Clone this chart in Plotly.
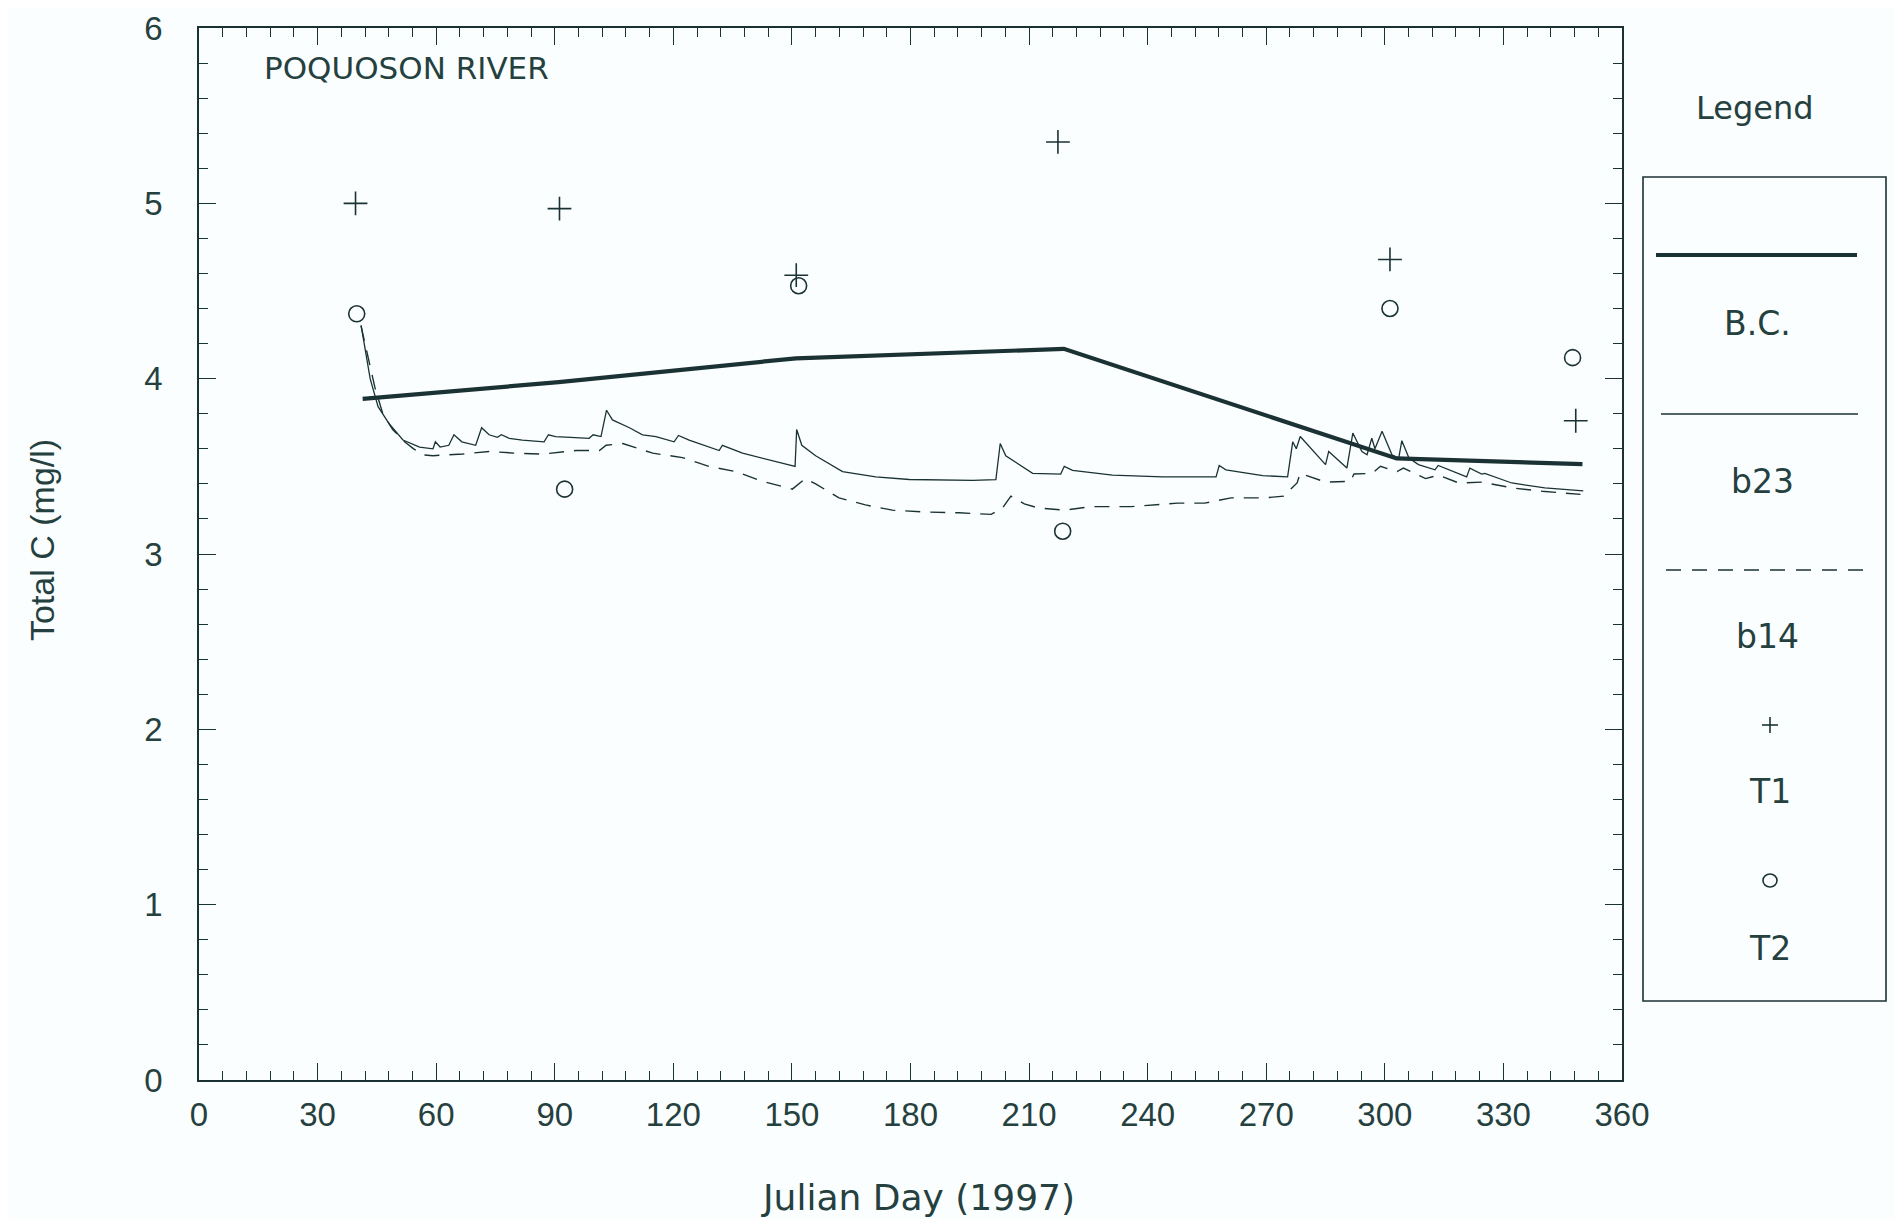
import plotly.graph_objects as go

# ---------------- data ----------------
bc_day = [41.4, 91, 151, 218.8, 303, 350]
bc_val = [3.885, 3.98, 4.116, 4.17, 3.545, 3.513]

b23_day = [41.0, 43.3, 45.3, 48.2, 51.6, 55.8, 59.2, 59.8, 61.0, 63.2, 64.5, 66.5, 70.0, 71.5,
           73.4, 75.5, 76.5, 78.5, 81.8, 87.3, 88.4, 90.2, 94.0, 98.7, 99.7, 101.7, 103.1, 104.6,
           108.9, 112.2, 115.6, 120.2, 121.3, 124.0, 131.6, 132.4, 137.5, 145.9, 150.8, 151.2,
           152.5, 156.0, 162.8, 171.2, 179.7, 195.7, 201.6, 202.7, 204.1, 210.9, 218.0, 218.9,
           221.0, 231.1, 243.8, 257.3, 258.1, 259.8, 269.1, 275.4, 276.7, 277.6, 278.6, 285.0,
           285.8, 290.4, 291.9, 294.2, 295.5, 296.7, 297.5, 299.3, 301.8, 303.5, 304.3, 306.1,
           308.5, 312.7, 313.5, 320.7, 321.5, 324.5, 325.3, 332.1, 340.5, 350.2]
b23_val = [4.305, 4.00, 3.84, 3.74, 3.65, 3.61, 3.60, 3.64, 3.61, 3.62, 3.68, 3.64, 3.62, 3.72,
           3.68, 3.665, 3.68, 3.66, 3.65, 3.64, 3.68, 3.67, 3.665, 3.66, 3.68, 3.67, 3.82, 3.765,
           3.72, 3.68, 3.67, 3.64, 3.676, 3.65, 3.59, 3.62, 3.575, 3.53, 3.50, 3.71,
           3.62, 3.56, 3.47, 3.44, 3.425, 3.42, 3.424, 3.63, 3.56, 3.46, 3.456, 3.50,
           3.477, 3.45, 3.44, 3.44, 3.505, 3.48, 3.447, 3.44, 3.64, 3.60, 3.67, 3.51,
           3.585, 3.49, 3.69, 3.585, 3.566, 3.66, 3.60, 3.70, 3.566, 3.545, 3.646, 3.547,
           3.51, 3.48, 3.505, 3.44, 3.49, 3.456, 3.46, 3.405, 3.377, 3.36]

b14_day = [41.0, 42.5, 44.5, 46.5, 49.0, 52.0, 54.3, 57.0, 59.2, 62.0, 66.8, 73.4, 80.1, 86.9,
           95.4, 101.3, 103.0, 107.2, 114.8, 122.3, 129.0, 135.8, 142.5, 150.1, 153.4, 156.0,
           161.9, 168.6, 175.4, 183.0, 192.3, 200.4, 203.3, 205.4, 208.8, 212.2, 219.0, 225.7,
           235.8, 247.6, 254.4, 261.1, 269.6, 274.4, 277.8, 278.6, 285.0, 291.3, 292.2, 296.8,
           298.9, 303.1, 304.7, 310.3, 313.6, 318.7, 324.6, 332.2, 339.8, 349.5]
b14_val = [4.30, 4.15, 3.95, 3.80, 3.71, 3.64, 3.60, 3.565, 3.56, 3.565, 3.57, 3.585, 3.575, 3.57,
           3.59, 3.59, 3.62, 3.63, 3.575, 3.55, 3.50, 3.47, 3.415, 3.37, 3.43, 3.40,
           3.32, 3.28, 3.25, 3.24, 3.235, 3.226, 3.263, 3.33, 3.286, 3.263, 3.25, 3.27,
           3.27, 3.29, 3.29, 3.32, 3.32, 3.33, 3.405, 3.46, 3.41, 3.415, 3.456, 3.46,
           3.50, 3.47, 3.49, 3.43, 3.45, 3.405, 3.41, 3.377, 3.358, 3.34]

t1_day = [39.6, 91.2, 151.1, 217.3, 301.3, 348.3]
t1_val = [5.00, 4.97, 4.59, 5.35, 4.68, 3.76]
t2_day = [39.9, 92.5, 151.7, 218.5, 301.3, 347.5]
t2_val = [4.37, 3.37, 4.53, 3.13, 4.40, 4.12]

x_ticks = list(range(0, 361, 30))
y_ticks = [0, 1, 2, 3, 4, 5, 6]

# ---------------- styling ----------------
INK = "#1b3234"
TXT = "#25413f"
BG = "#fbfefe"
FONT = "Liberation Sans, Arial, sans-serif"
WFONT = "DejaVu Sans, Verdana, sans-serif"

fig = go.Figure()
fig.add_trace(go.Scatter(x=bc_day, y=bc_val, mode="lines", name="B.C.",
                         line=dict(color=INK, width=4.2)))
fig.add_trace(go.Scatter(x=b23_day, y=b23_val, mode="lines", name="b23",
                         line=dict(color=INK, width=1.3)))
fig.add_trace(go.Scatter(x=b14_day, y=b14_val, mode="lines", name="b14",
                         line=dict(color=INK, width=1.4, dash="15px,10px")))
fig.add_trace(go.Scatter(x=t1_day, y=t1_val, mode="markers", name="T1",
                         marker=dict(symbol="cross-thin-open", size=17, color=INK,
                                     line=dict(color=INK, width=1.6))))
fig.add_trace(go.Scatter(x=t2_day, y=t2_val, mode="markers", name="T2",
                         marker=dict(symbol="circle-open", size=16, color=INK,
                                     line=dict(color=INK, width=1.6))))

axis_common = dict(showline=True, linecolor=INK, linewidth=1.6, mirror="ticks",
                   ticks="inside", tickcolor=INK, tickwidth=1.3, ticklen=17,
                   showgrid=False, zeroline=False, ticklabeloverflow="allow",
                   automargin=False,
                   tickfont=dict(family=FONT, size=33, color=TXT))

fig.update_xaxes(range=[0, 360], tickvals=x_ticks, ticktext=[str(v) for v in x_ticks],
                 minor=dict(ticks="inside", dtick=6, ticklen=9, tickcolor=INK, tickwidth=1.2),
                 ticklabelstandoff=5, **axis_common)
fig.update_yaxes(range=[0, 6], tickvals=y_ticks, ticktext=[str(v) for v in y_ticks],
                 minor=dict(ticks="inside", dtick=0.2, ticklen=9, tickcolor=INK, tickwidth=1.2),
                 ticklabelstandoff=28, **axis_common)

# page geometry (the html body adds an 8px margin)
OFF = 8
FW, FH = 1886, 1211
L, R, T, B = 199, 1622, 28, 1080          # plot area in page pixels
pw, ph = R - L, B - T


def px(X):
    return (X - L) / pw


def py(Y):
    return (B - Y) / ph


shapes = []
shapes.append(dict(type="rect", xref="paper", yref="paper",
                   x0=px(1643), x1=px(1886), y0=py(1001), y1=py(177),
                   line=dict(color=INK, width=1.6), fillcolor=BG))
shapes.append(dict(type="line", xref="paper", yref="paper", x0=px(1656), x1=px(1857),
                   y0=py(255), y1=py(255), line=dict(color=INK, width=4.2)))
shapes.append(dict(type="line", xref="paper", yref="paper", x0=px(1661), x1=px(1858),
                   y0=py(414), y1=py(414), line=dict(color=INK, width=1.3)))
shapes.append(dict(type="line", xref="paper", yref="paper", x0=px(1666), x1=px(1863),
                   y0=py(570), y1=py(570), line=dict(color=INK, width=1.4, dash="15px,11px")))
shapes.append(dict(type="line", xref="paper", yref="paper", x0=px(1762), x1=px(1778),
                   y0=py(725), y1=py(725), line=dict(color=INK, width=1.6)))
shapes.append(dict(type="line", xref="paper", yref="paper", x0=px(1770), x1=px(1770),
                   y0=py(717), y1=py(733), line=dict(color=INK, width=1.6)))
shapes.append(dict(type="circle", xref="paper", yref="paper", x0=px(1763), x1=px(1777),
                   y0=py(887), y1=py(874), line=dict(color=INK, width=1.6)))

ann = []


def txt(X, Y, s, size=34, family=WFONT, xanchor="center", angle=0):
    ann.append(dict(x=px(X), y=py(Y), xref="paper", yref="paper", text=s, showarrow=False,
                    xanchor=xanchor, yanchor="middle", textangle=angle,
                    font=dict(family=family, size=size, color=TXT)))


txt(1755, 108, "Legend", 32)
txt(1757, 323, "B.C.", 33)
txt(1762, 482, "b23", 33)
txt(1767, 636, "b14", 33)
txt(1770, 791, "T1", 33)
txt(1770, 948, "T2", 33)
txt(262, 68, "POQUOSON RIVER", 31, xanchor="left")
txt(42, 540, "Total C (mg/l)", 34, family=FONT, angle=-90)
txt(918, 1197, "Julian Day (1997)", 36)

fig.update_layout(width=FW, height=FH, autosize=False,
                  margin=dict(l=L - OFF, r=FW + OFF - R, t=T - OFF, b=FH + OFF - B, pad=0),
                  paper_bgcolor=BG, plot_bgcolor=BG, showlegend=False,
                  shapes=shapes, annotations=ann,
                  font=dict(family=FONT, color=TXT))

fig.write_html("out.html")
